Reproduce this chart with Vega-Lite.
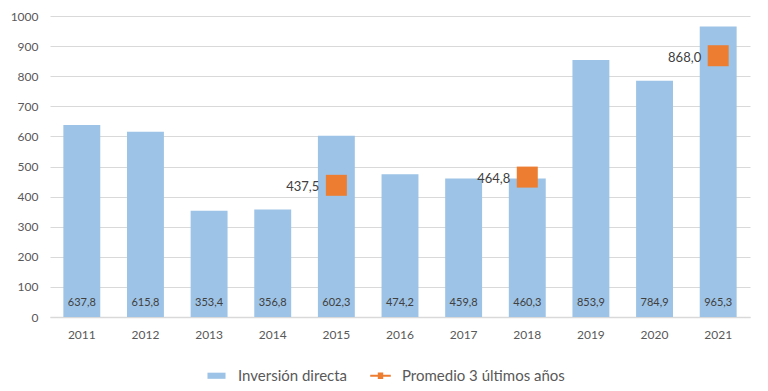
{
  "$schema": "https://vega.github.io/schema/vega-lite/v6.json",
  "width": 700,
  "height": 301,
  "autosize": {"type": "none"},
  "padding": {"left": 50, "top": 16, "right": 18, "bottom": 74},
  "background": "white",
  "config": {
    "locale": {"number": {"decimal": ",", "thousands": ".", "grouping": [3], "currency": ["", " €"]}},
    "font": "Lato",
    "view": {"stroke": null},
    "axisY": {"values": [0,100,200,300,400,500,600,700,800,900,1000], "domain": false, "ticks": false, "gridColor": "#D9D9D9", "gridWidth": 1, "labelColor": "#595959", "labelFontSize": 12, "labelPadding": 12, "format": "d", "labelOverlap": false, "title": null}
  },
  "data": {
    "values": [
      {"year": "2011", "inv": 637.8, "prom": null},
      {"year": "2012", "inv": 615.8, "prom": null},
      {"year": "2013", "inv": 353.4, "prom": null},
      {"year": "2014", "inv": 356.8, "prom": null},
      {"year": "2015", "inv": 602.3, "prom": 437.5},
      {"year": "2016", "inv": 474.2, "prom": null},
      {"year": "2017", "inv": 459.8, "prom": null},
      {"year": "2018", "inv": 460.3, "prom": 464.8},
      {"year": "2019", "inv": 853.9, "prom": null},
      {"year": "2020", "inv": 784.9, "prom": null},
      {"year": "2021", "inv": 965.3, "prom": 868.0}
    ]
  },
  "encoding": {
    "x": {
      "field": "year", "type": "nominal", "title": null,
      "scale": {"paddingInner": 0.42, "paddingOuter": 0.21},
      "axis": {"labelAngle": 0, "ticks": false, "domain": true, "domainColor": "#D9D9D9", "domainWidth": 1.5, "labelColor": "#595959", "labelFontSize": 12, "labelPadding": 12}
    }
  },
  "layer": [
    {
      "mark": {"type": "bar", "color": "#9DC3E6"},
      "encoding": {
        "y": {
          "field": "inv", "type": "quantitative", "title": null,
          "scale": {"domain": [0, 1000], "nice": false}
        },
        "color": {
          "datum": "Inversión directa",
          "type": "nominal",
          "scale": {"domain": ["Inversión directa", "Promedio 3 últimos años"], "range": ["#9DC3E6", "#ED7D31"]},
          "legend": {
            "title": null, "orient": "none", "direction": "horizontal",
            "legendX": 148, "legendY": 341,
            "labelFontSize": 15, "labelColor": "#595959", "symbolSize": 1300,
            "columnPadding": 14, "labelOffset": 3, "labelLimit": 400,
            "symbolStrokeWidth": 0,
            "encode": {
              "symbols": {
                "update": {
                  "shape": {"signal": "datum.value === 'Inversión directa' ? 'M-0.5,-0.17H0.5V0.17H-0.5Z' : 'M-0.57,-0.055H0.57V0.055H-0.57Z M-0.15,-0.18H0.15V0.18H-0.15Z'"},
                  "strokeWidth": {"value": 0}
                }
              }
            }
          }
        }
      }
    },
    {
      "mark": {"type": "text", "baseline": "middle", "dy": -14, "fontSize": 11, "color": "#404040"},
      "encoding": {
        "y": {"datum": 0, "type": "quantitative"},
        "text": {"field": "inv", "type": "quantitative", "format": ".1f"}
      }
    },
    {
      "transform": [{"filter": "datum.prom != null"}],
      "mark": {"type": "square", "size": 441, "filled": true, "opacity": 1},
      "encoding": {
        "y": {"field": "prom", "type": "quantitative"},
        "color": {"datum": "Promedio 3 últimos años", "type": "nominal"}
      }
    },
    {
      "transform": [{"filter": "datum.prom != null"}],
      "mark": {"type": "text", "align": "right", "baseline": "middle", "dx": -17, "dy": 2, "fontSize": 13, "color": "#404040"},
      "encoding": {
        "y": {"field": "prom", "type": "quantitative"},
        "text": {"field": "prom", "type": "quantitative", "format": ".1f"}
      }
    }
  ]
}
